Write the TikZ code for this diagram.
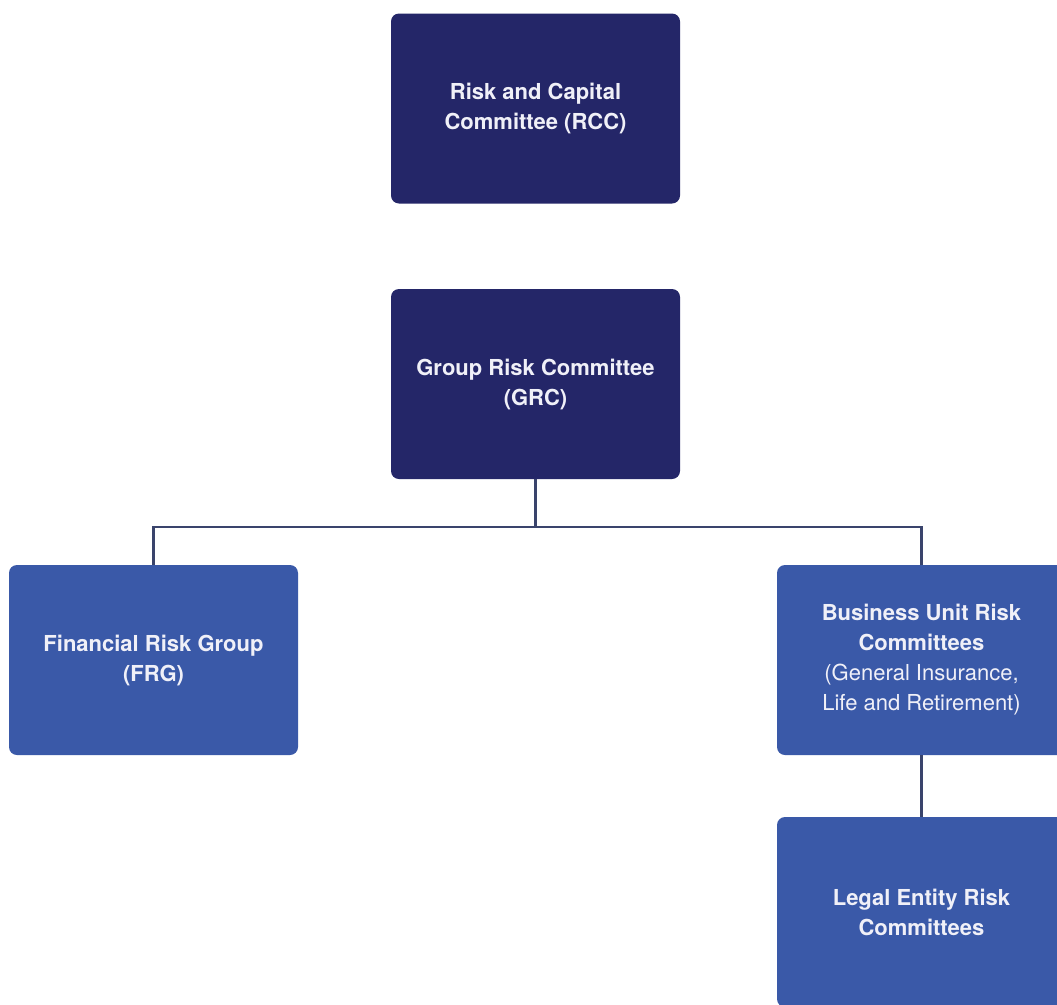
\documentclass[tikz,border=0pt]{standalone}
\usepackage{fontspec}
\setmainfont{TeX Gyre Heros}
\definecolor{navy}{RGB}{36,38,104}
\definecolor{midblue}{RGB}{58,89,168}
\definecolor{linec}{RGB}{58,68,108}
\definecolor{txt}{RGB}{240,240,248}
\begin{document}
\begin{tikzpicture}[x=1pt,y=-1pt,
  box/.style={rounded corners=8pt, minimum width=289pt, minimum height=190pt,
    inner sep=0pt, text=txt, align=center, font=\fontsize{22}{30}\selectfont\bfseries},
  darkbox/.style={box, fill=navy},
  lightbox/.style={box, fill=midblue},
  conn/.style={draw=linec, line width=2.5pt}]
\useasboundingbox (0,0) rectangle (1057,1004);
\clip (0,0) rectangle (1057,1004);
\fill[white] (0,0) rectangle (1057,1004);
\node[darkbox] (rcc) at (535.5,108.5) {Risk and Capital\\Committee (RCC)};
\node[darkbox] (grc) at (535.5,384) {Group Risk Committee\\(GRC)};
\node[lightbox] (frg) at (153.5,660) {Financial Risk Group\\(FRG)};
\node[lightbox] (bu) at (921.5,660) {Business Unit Risk\\Committees\\{\mdseries (General Insurance,}\\{\mdseries Life and Retirement)}};
\node[lightbox] (le) at (921.5,912) {Legal Entity Risk\\Committees};
\coordinate (j) at (535.5,527);
\draw[conn] (grc.south) -- (j);
\draw[conn] (frg.north) |- (j) -| (bu.north);
\draw[conn] (bu.south) -- (le.north);
\end{tikzpicture}
\end{document}
